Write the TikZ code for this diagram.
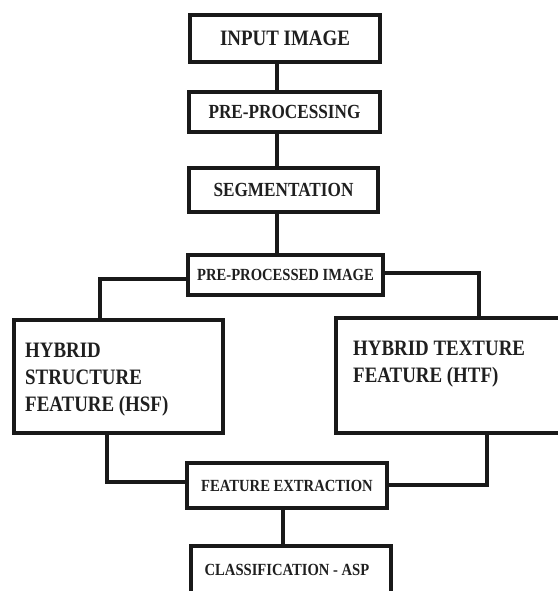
\documentclass[tikz,border=0pt]{standalone}
\usepackage{fontspec}
\setmainfont{Liberation Serif}[FakeStretch=0.86]
\begin{document}
\begin{tikzpicture}[x=1pt,y=-1pt,
  box/.style={draw=black!90, line width=3.5pt, inner sep=0pt, text=black!88},
  conn/.style={draw=black!90, line width=3.4pt},
  fA/.style={font=\bfseries\fontsize{22}{22}\selectfont},
  fB/.style={font=\bfseries\fontsize{20}{20}\selectfont},
  fC/.style={font=\bfseries\fontsize{17}{17}\selectfont},
  bigtext/.style={anchor=west, align=left, inner sep=0pt, text=black!88,
    font=\bfseries\fontsize{22}{27}\selectfont}]
\fill[white] (0,0) rectangle (557,591);
\useasboundingbox (0,0) rectangle (557,591);

\node[box, fA, minimum width=190, minimum height=47] (input) at (285,38.5) {INPUT IMAGE};
\node[box, fB, minimum width=191, minimum height=40] (pre) at (284.5,112) {PRE-PROCESSING};
\node[box, fB, minimum width=189, minimum height=44] (seg) at (283.5,190) {SEGMENTATION};
\node[box, fC, minimum width=195, minimum height=40] (pimg) at (285.5,275) {PRE-PROCESSED IMAGE};
\node[box, minimum width=209, minimum height=113] (hsf) at (118.5,376.5) {};
\node[bigtext] (hsftext) at (25,380) {HYBRID\\STRUCTURE\\FEATURE (HSF)};
\node[box, minimum width=229, minimum height=115] (htf) at (450.5,375.5) {};
\node[bigtext] (htftext) at (353,364) {HYBRID TEXTURE\\FEATURE (HTF)};
\node[box, fC, minimum width=200, minimum height=45] (fe) at (287,485.5) {FEATURE EXTRACTION};
\node[box, minimum width=200, minimum height=50] (cls) at (291,571) {};
\node[fC, text=black!88, inner sep=0pt] (clstext) at (287,570) {CLASSIFICATION - ASP};

\coordinate (vx) at (277,0);
\draw[conn] (vx |- input.south) -- (vx |- pre.north);
\draw[conn] (vx |- pre.south) -- (vx |- seg.north);
\draw[conn] (vx |- seg.south) -- (vx |- pimg.north);
\coordinate (lv) at (100,279);
\draw[conn] (pimg.west |- lv) -- (lv) -- (lv |- hsf.north);
\coordinate (rv) at (479,273);
\draw[conn] (pimg.east |- rv) -- (rv) -- (rv |- htf.north);
\coordinate (lb) at (107,482);
\draw[conn] (lb |- hsf.south) -- (lb) -- (fe.west |- lb);
\coordinate (rb) at (487,485);
\draw[conn] (rb |- htf.south) -- (rb) -- (fe.east |- rb);
\coordinate (bx) at (283,0);
\draw[conn] (bx |- fe.south) -- (bx |- cls.north);
\end{tikzpicture}
\end{document}
